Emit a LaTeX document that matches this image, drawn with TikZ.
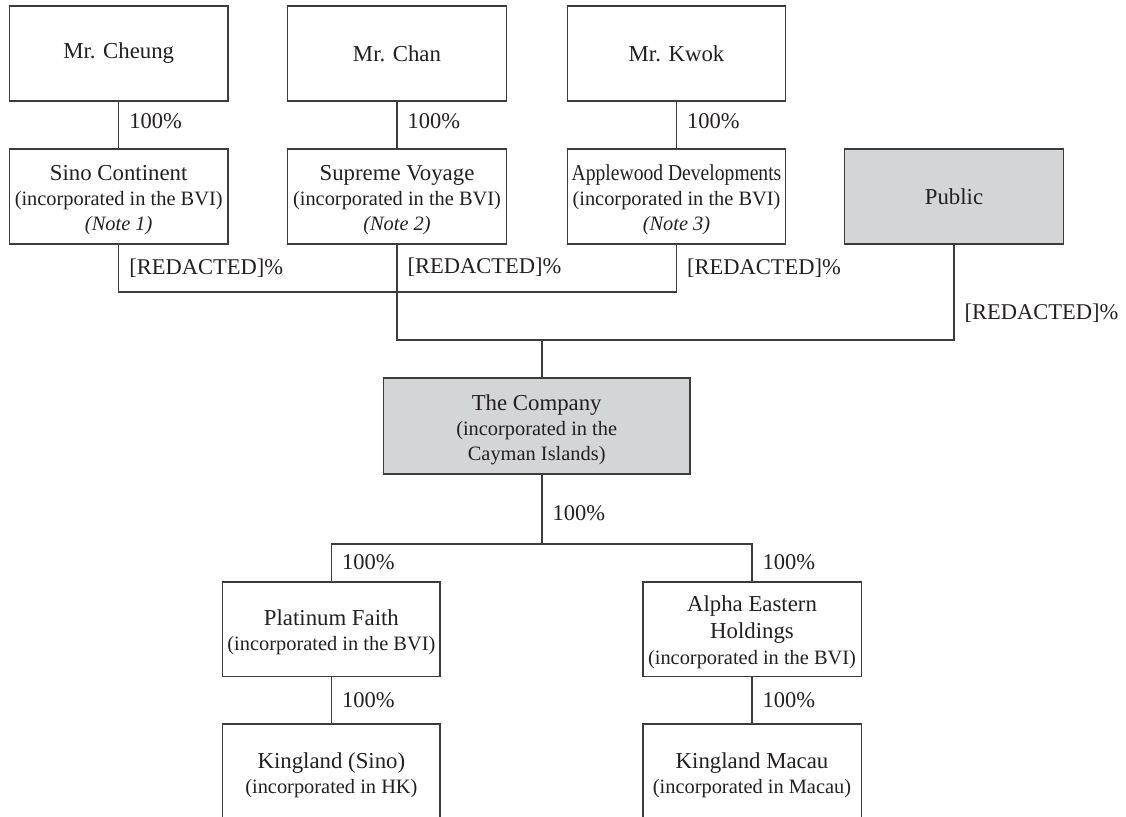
\documentclass[tikz,border=0pt]{standalone}
\usepackage{fontspec}
\setmainfont{Liberation Serif}
\usepackage{graphicx}
\usetikzlibrary{positioning,calc}
\definecolor{boxgray}{RGB}{212,213,215}
\definecolor{linegray}{RGB}{60,60,60}
\definecolor{inkblack}{RGB}{35,31,32}
\newcommand{\subtxt}{\fontsize{10.2}{12.5}\selectfont}
\newcommand{\topstrut}{\rule{0pt}{11.3pt}}
\tikzset{
  entity/.style = {shape=rectangle, draw=linegray, line width=0.7pt,
                   align=center, inner sep=1pt, text=inkblack,
                   minimum width=109.25pt, minimum height=47.5pt,
                   font=\fontsize{11.4}{12.5}\selectfont},
  listed/.style = {entity, fill=boxgray},
  pct/.style    = {anchor=west, inner sep=0pt, xshift=5pt, text=inkblack,
                   font=\fontsize{11.25}{12.5}\selectfont},
  link/.style   = {draw=linegray, line width=0.7pt}
}

\begin{document}
\begin{tikzpicture}[x=0.5pt, y=-0.5pt]
  \useasboundingbox (0,0) rectangle (1126,816);

  % shareholders
  \node [entity] (cheung) at (118.7,53.5) {Mr. Cheung};
  \node [entity] (chan)   at (397,53.5)   {Mr. Chan};
  \node [entity] (kwok)   at (676.5,53.5) {Mr. Kwok};

  % holding vehicles
  \node [entity] (sino) at (118.7,196.5)
    {\topstrut Sino Continent\\{\subtxt (incorporated in the BVI)}\\{\subtxt\itshape (Note 1)}};
  \node [entity] (supreme) at (397,196.5)
    {\topstrut Supreme Voyage\\{\subtxt (incorporated in the BVI)}\\{\subtxt\itshape (Note 2)}};
  \node [entity] (applewood) at (676.5,196.5)
    {\topstrut\scalebox{0.86}[1]{Applewood Developments}\\{\subtxt (incorporated in the BVI)}\\{\subtxt\itshape (Note 3)}};
  \node [listed] (public) at (954,196.5) {Public};

  \node [listed, minimum width=153.3pt, minimum height=48pt] (company) at (536.7,426)
    {\topstrut The Company\\{\subtxt (incorporated in the}\\{\subtxt Cayman Islands)}};

  % subsidiaries
  \node [entity, minimum width=108.7pt, minimum height=47.2pt] (platinum) at (331.4,629)
    {\topstrut Platinum Faith\\{\subtxt (incorporated in the BVI)}};
  \node [entity, minimum width=109.2pt, minimum height=47.2pt,
         font=\fontsize{11.4}{13.25}\selectfont] (alpha) at (752,629)
    {\topstrut Alpha Eastern\\Holdings\\{\subtxt (incorporated in the BVI)}};
  \node [entity, minimum width=108.7pt] (kingsino) at (331.4,771.5)
    {\topstrut Kingland (Sino)\\{\subtxt (incorporated in HK)}};
  \node [entity, minimum width=109.2pt] (kingmacau) at (752,771.5)
    {\topstrut Kingland Macau\\{\subtxt (incorporated in Macau)}};

  \coordinate (topbar) at (0,292);
  \coordinate (midbar) at (542,340);
  \coordinate (subbar) at (542,544);

  \draw [link] (cheung) -- node[pct, pos=0.42] {100\%} (sino);
  \draw [link] (chan)   -- node[pct, pos=0.42] {100\%} (supreme);
  \draw [link] (kwok)   -- node[pct, pos=0.42] {100\%} (applewood);

  \draw [link] (sino) -- node[pct] {[REDACTED]\%} (sino |- topbar)
    -- (applewood |- topbar) -- node[pct] {[REDACTED]\%} (applewood);
  \draw [link] (supreme) -- node[pct, pos=0.24] {[REDACTED]\%} (supreme |- midbar)
    -- (public |- midbar) -- node[pct, pos=0.28] {[REDACTED]\%} (public);
  \draw [link] (midbar) -- (midbar |- company.north);

  \draw [link] (company.south -| midbar) -- node[pct, pos=0.55] {100\%} (subbar);
  \draw [link] (platinum) -- node[pct] {100\%} (platinum |- subbar)
    -- (alpha |- subbar) -- node[pct] {100\%} (alpha);

  \draw [link] (platinum) -- node[pct] {100\%} (kingsino);
  \draw [link] (alpha)    -- node[pct] {100\%} (kingmacau);
\end{tikzpicture}
\end{document}
